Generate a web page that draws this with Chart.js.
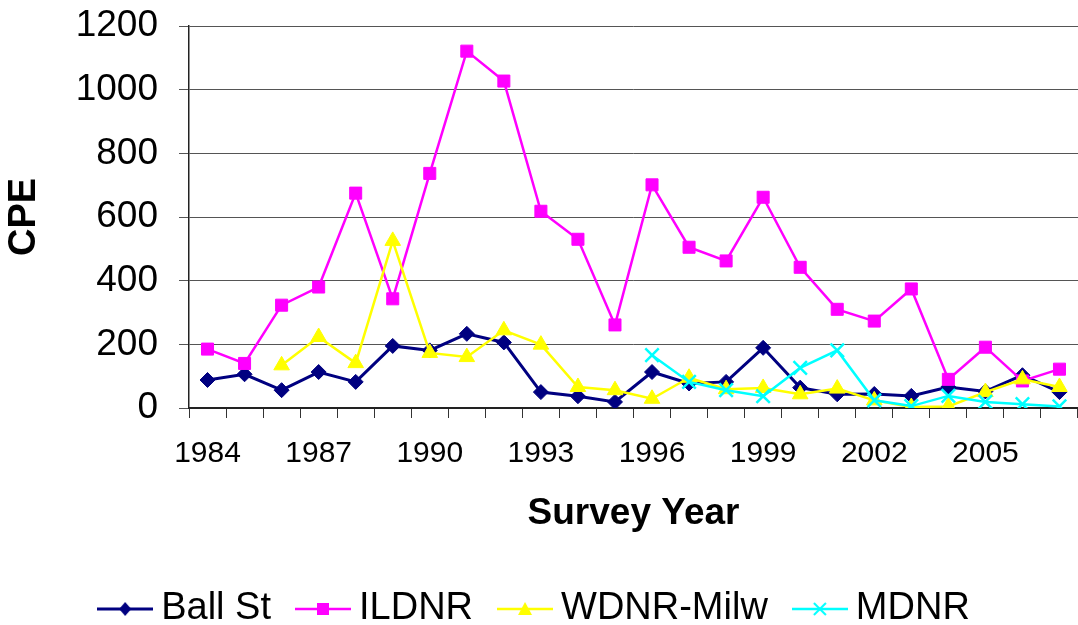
<!DOCTYPE html>
<html><head><meta charset="utf-8">
<script src="https://cdn.jsdelivr.net/npm/chart.js@4.4.1/dist/chart.umd.min.js"></script>
<style>html,body{margin:0;padding:0;background:#fff;overflow:hidden}</style>
</head><body>
<canvas id="c" width="1078" height="625"></canvas>
<script>
const years = ['1984','1985','1986','1987','1988','1989','1990','1991','1992','1993','1994','1995','1996','1997','1998','1999','2000','2001','2002','2003','2004','2005','2006','2007'];
const tickLabels = ['1984','1987','1990','1993','1996','1999','2002','2005'];
const ballSt = [88,106,56,113,82,195,181,233,206,50,37,19,113,77,82,189,64,43,44,38,66,52,103,50];
const ildnr  = [185,140,323,380,675,343,737,1121,1027,618,530,261,701,505,462,662,442,310,273,374,90,191,85,122];
const wdnrMilw = [null,null,134,223,141,525,173,160,244,199,66,56,29,95,59,63,43,61,24,3,5,50,90,66];
const mdnr   = [null,null,null,null,null,null,null,null,null,null,null,null,166,82,56,37,126,181,24,6,38,19,12,5];
const seriesNames = ['Ball St','ILDNR','WDNR-Milw','MDNR'];

const FONT = "'Liberation Sans', Arial, sans-serif";
const styles = [
  {color:'#000080', style:'rectRot', radius:7.5, lw:3},
  {color:'#FF00FF', style:'rect', radius:8.5, lw:2.5},
  {color:'#FFFF00', style:'triangle', radius:9, lw:2.5},
  {color:'#00FFFF', style:'crossRot', radius:9.5, lw:2.5}
];

function legendSwatch(s){
  const c = document.createElement('canvas');
  c.width = 56; c.height = 22;
  const g = c.getContext('2d');
  g.strokeStyle = s.color; g.fillStyle = s.color; g.lineWidth = s.lw;
  g.beginPath(); g.moveTo(0,11); g.lineTo(56,11); g.stroke();
  const cx = 28, cy = 11;
  g.beginPath();
  if (s.style === 'rectRot') { g.moveTo(cx,cy-7); g.lineTo(cx+6,cy); g.lineTo(cx,cy+7); g.lineTo(cx-6,cy); g.closePath(); g.fill(); }
  else if (s.style === 'rect') { g.fillRect(cx-6,cy-6,12,12); }
  else if (s.style === 'triangle') { g.moveTo(cx,cy-7); g.lineTo(cx+7,cy+6); g.lineTo(cx-7,cy+6); g.closePath(); g.fill(); }
  else { g.lineWidth = 2; g.moveTo(cx-6,cy-6); g.lineTo(cx+6,cy+6); g.moveTo(cx+6,cy-6); g.lineTo(cx-6,cy+6); g.stroke(); }
  return c;
}
const swatches = styles.map(legendSwatch);

const seriesData = [ballSt, ildnr, wdnrMilw, mdnr];
const datasets = seriesData.map((d,i)=>({
  label: seriesNames[i],
  data: d,
  borderColor: styles[i].color,
  backgroundColor: styles[i].color,
  borderWidth: styles[i].lw,
  pointStyle: styles[i].style,
  pointRadius: styles[i].radius,
  pointBorderWidth: i===3 ? 2.5 : 1,
  pointBackgroundColor: styles[i].color,
  pointBorderColor: styles[i].color,
  tension: 0,
  spanGaps: false,
  order: 3 - i
}));

new Chart(document.getElementById('c'), {
  type: 'line',
  data: { labels: years, datasets },
  options: {
    responsive: false,
    animation: false,
    devicePixelRatio: 1,
    layout: { autoPadding: false, padding: { top: 26, right: 0, bottom: -13, left: 0 } },
    plugins: {
      tooltip: { enabled: false },
      legend: {
        position: 'bottom',
        labels: {
          usePointStyle: true,
          pointStyleWidth: 34,
          padding: 35,
          color: '#000',
          font: { family: FONT, size: 38 },
          generateLabels: () => seriesNames.map((n,i)=>({
            text: n, pointStyle: swatches[i], fillStyle: styles[i].color,
            strokeStyle: styles[i].color, lineWidth: 0, hidden: false, datasetIndex: i
          }))
        }
      }
    },
    scales: {
      x: {
        type: 'category',
        offset: true,
        afterFit: (s) => { s.height = 147; s.paddingLeft = 0; s.paddingRight = 0; },
        grid: { display: true, drawOnChartArea: false, drawTicks: true, tickLength: 10, offset: true, color: '#333', lineWidth: 1 },
        border: { display: true, color: '#222', width: 2 },
        ticks: {
          autoSkip: false, maxRotation: 0, minRotation: 0, padding: 18, color: '#000',
          font: { family: FONT, size: 30 },
          callback: function(v, idx){ const l = years[idx]; return tickLabels.includes(l) ? l : ''; }
        },
        title: { display: true, text: 'Survey Year', color: '#000', font: { family: FONT, size: 37, weight: 'bold' }, padding: { top: 0, bottom: 19 } }
      },
      y: {
        min: 0, max: 1200,
        afterFit: (s) => { s.width = 189; s.paddingTop = 0; s.paddingBottom = 0; s.paddingLeft = 0; s.paddingRight = 0; },
        grid: { color: '#555', lineWidth: 1, tickLength: 10, drawTicks: true },
        border: { display: true, color: '#222', width: 1.5 },
        ticks: { stepSize: 200, padding: 21, color: '#000', font: { family: FONT, size: 37 }, callback: (v) => String(v) },
        title: { display: true, text: 'CPE', color: '#000', font: { family: FONT, size: 38, weight: 'bold' }, padding: { top: 2, bottom: 0 } }
      }
    }
  }
});
</script>
</body></html>
